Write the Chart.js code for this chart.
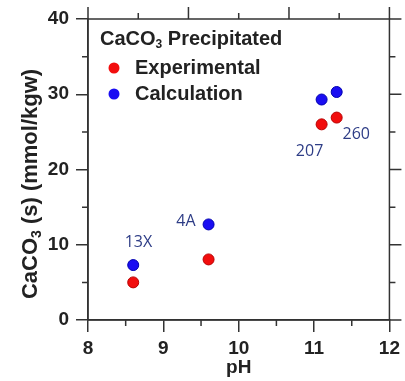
<!DOCTYPE html>
<html>
<head>
<meta charset="utf-8">
<script src="https://cdn.jsdelivr.net/npm/chart.js@4.4.0/dist/chart.umd.min.js"></script>
<style>
html, body { margin: 0; padding: 0; background: #fff; }
#wrap { width: 405px; height: 381px; }
</style>
</head>
<body>
<div id="wrap"><canvas id="chart"></canvas></div>
<script>
// measured values
const phExp = [8.6, 9.6, 11.1, 11.3];
const caco3Exp = [5.0, 8.05, 26.0, 26.9];
const phCalc = [8.6, 9.6, 11.1, 11.3];
const caco3Calc = [7.3, 12.7, 29.3, 30.3];

// sample annotations (data coords)
const sampleNames = ['13X', '4A', '207', '260'];
const sampleLabelX = [8.67, 9.30, 10.94, 11.56];
const sampleLabelY = [10.3, 13.1, 22.4, 24.7];

// axis ticks
const xMinor = [8.5, 9.5, 10.5, 11.5];
const yMajor = [0, 10, 20, 30, 40];
const yMinor = [5, 15, 25, 35];
const topMajor = [8, 9.333, 10.667, 12];
const topMinor = [8.667, 10, 11.333];

const AXIS = '#333333';
const FONT = "'Liberation Sans', Arial, sans-serif";

function toPoints(xs, ys) {
    return xs.map((x, i) => ({ x: x, y: ys[i] }));
}

// text with a subscript in the middle
function drawSub(ctx, pre, sub, post, x, y, size, align) {
    const big = 'bold ' + size + 'px ' + FONT;
    const small = 'bold ' + Math.round(size * 0.62) + 'px ' + FONT;
    ctx.font = big;
    const w1 = ctx.measureText(pre).width;
    const w3 = ctx.measureText(post).width;
    ctx.font = small;
    const w2 = ctx.measureText(sub).width;
    let x0 = x;
    if (align === 'center') x0 = x - (w1 + w2 + w3) / 2;
    ctx.textAlign = 'left';
    ctx.textBaseline = 'middle';
    ctx.font = big;
    ctx.fillText(pre, x0, y);
    ctx.font = small;
    ctx.fillText(sub, x0 + w1, y + size * 0.3);
    ctx.font = big;
    ctx.fillText(post, x0 + w1 + w2, y);
}

const framePlugin = {
    id: 'frame',
    afterDraw(chart) {
        const ctx = chart.ctx;
        const a = chart.chartArea;
        const xs = chart.scales.x, ys = chart.scales.y;
        ctx.save();
        ctx.strokeStyle = AXIS;
        ctx.lineWidth = 1.5;
        ctx.strokeRect(a.left, a.top, a.right - a.left, a.bottom - a.top);
        ctx.beginPath();
        xMinor.forEach(v => {
            const p = xs.getPixelForValue(v);
            ctx.moveTo(p, a.bottom); ctx.lineTo(p, a.bottom + 6);
        });
        yMinor.forEach(v => {
            const p = ys.getPixelForValue(v);
            ctx.moveTo(a.left, p); ctx.lineTo(a.left - 6, p);
            ctx.moveTo(a.right, p); ctx.lineTo(a.right + 6, p);
        });
        yMajor.forEach(v => {
            const p = ys.getPixelForValue(v);
            ctx.moveTo(a.right, p); ctx.lineTo(a.right + 12, p);
        });
        topMajor.forEach(v => {
            const p = xs.getPixelForValue(v);
            ctx.moveTo(p, a.top); ctx.lineTo(p, a.top - 12);
        });
        topMinor.forEach(v => {
            const p = xs.getPixelForValue(v);
            ctx.moveTo(p, a.top); ctx.lineTo(p, a.top - 6);
        });
        ctx.stroke();

        // axis titles
        ctx.fillStyle = '#222';
        ctx.textBaseline = 'middle';
        ctx.textAlign = 'center';
        ctx.font = 'bold 19px ' + FONT;
        ctx.fillText('pH', (a.left + a.right) / 2, 368);

        ctx.translate(31, 184);
        ctx.rotate(-Math.PI / 2);
        drawSub(ctx, 'CaCO', '3', ' (s) (mmol/kgw)', 0, 0, 22, 'center');
        ctx.restore();
    }
};

const notesPlugin = {
    id: 'notes',
    afterDatasetsDraw(chart) {
        const ctx = chart.ctx;
        const xs = chart.scales.x, ys = chart.scales.y;
        ctx.save();
        ctx.fillStyle = '#2e3d86';
        ctx.font = "16px 'Open Sans', sans-serif";
        ctx.textAlign = 'center';
        ctx.textBaseline = 'middle';
        sampleNames.forEach((t, i) => {
            ctx.fillText(t, xs.getPixelForValue(sampleLabelX[i]), ys.getPixelForValue(sampleLabelY[i]));
        });

        // legend box inside plot
        ctx.fillStyle = '#222';
        drawSub(ctx, 'CaCO', '3', ' Precipitated', 100, 39, 20, 'left');
        chart.data.datasets.forEach((ds, i) => {
            const y = 68 + i * 26;
            ctx.beginPath();
            ctx.arc(114, y, 5.5, 0, Math.PI * 2);
            ctx.fillStyle = ds.backgroundColor;
            ctx.fill();
            ctx.fillStyle = '#222';
            ctx.font = 'bold 20px ' + FONT;
            ctx.textAlign = 'left';
            ctx.textBaseline = 'middle';
            ctx.fillText(ds.label, 135, y);
        });
        ctx.restore();
    }
};

new Chart(document.getElementById('chart'), {
    type: 'scatter',
    data: {
        datasets: [{
            label: 'Experimental',
            data: toPoints(phExp, caco3Exp),
            backgroundColor: '#f20d0d',
            borderColor: '#b80000',
            borderWidth: 1,
            pointRadius: 5.5
        }, {
            label: 'Calculation',
            data: toPoints(phCalc, caco3Calc),
            backgroundColor: '#1a0df2',
            borderColor: '#0000b0',
            borderWidth: 1,
            pointRadius: 5.5
        }]
    },
    options: {
        responsive: true,
        maintainAspectRatio: false,
        animation: false,
        layout: { padding: { top: 19, right: 14, left: 0, bottom: 0 } },
        plugins: { legend: { display: false }, tooltip: { enabled: false } },
        scales: {
            x: {
                type: 'linear', min: 8, max: 12,
                ticks: { stepSize: 1, color: '#222', padding: 5, font: { family: FONT, size: 19, weight: 'bold' } },
                grid: { drawOnChartArea: false, tickLength: 12, color: AXIS, lineWidth: 1.5 },
                border: { color: AXIS, width: 1.5 },
                afterFit(s) { s.height = 61; }
            },
            y: {
                min: 0, max: 40,
                ticks: { stepSize: 10, color: '#222', padding: 7, font: { family: FONT, size: 19, weight: 'bold' } },
                grid: { drawOnChartArea: false, tickLength: 12, color: AXIS, lineWidth: 1.5 },
                border: { color: AXIS, width: 1.5 },
                afterFit(s) { s.width = 88; }
            }
        }
    },
    plugins: [framePlugin, notesPlugin]
});
</script>
</body>
</html>
